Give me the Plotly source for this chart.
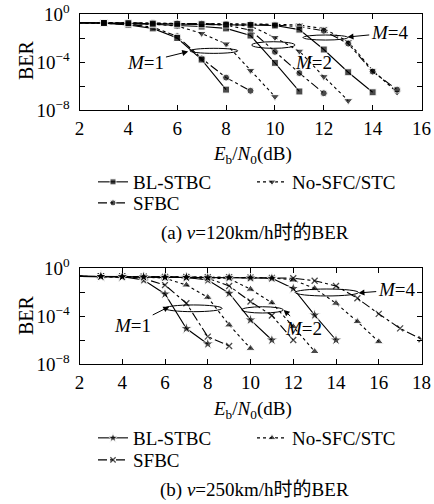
import plotly.graph_objects as go

# ---------------- data ----------------
# x starts at 2 dB and steps by 1 dB for every curve
snr_start = 2

# (a) v=120 km/h
a_bl_m1 = [0.19, 0.17, 0.12, 0.063, 1.0e-2, 1.6e-4, 5e-7]
a_sf_m1 = [0.19, 0.175, 0.14, 0.08, 1.4e-2, 2e-4, 5e-6, 4e-7]
a_ns_m1 = [0.19, 0.18, 0.165, 0.14, 0.1, 2.4e-2, 3.2e-3, 2e-5, 1.3e-7]
a_bl_m2 = [0.19, 0.18, 0.165, 0.14, 0.11, 0.09, 0.063, 1.6e-2, 8.5e-5, 3.5e-7]
a_sf_m2 = [0.19, 0.185, 0.18, 0.17, 0.16, 0.14, 0.12, 0.045, 7e-4, 1.2e-5, 2.5e-7]
a_ns_m2 = [0.19, 0.185, 0.18, 0.17, 0.16, 0.15, 0.13, 0.1, 1.1e-2, 8e-4, 6e-6, 6e-8]
a_bl_m4 = [0.19, 0.18, 0.17, 0.16, 0.15, 0.14, 0.13, 0.12, 0.11, 0.05, 1.1e-3, 1.4e-5, 3e-7]
a_sf_m4 = [0.19, 0.185, 0.18, 0.175, 0.17, 0.16, 0.15, 0.14, 0.12, 0.09, 0.04, 3.4e-3, 1.6e-5, 5e-7]
a_ns_m4 = [0.19, 0.185, 0.18, 0.175, 0.17, 0.165, 0.16, 0.15, 0.14, 0.12, 0.06, 5e-3, 2e-5, 3e-7]

# (b) v=250 km/h
b_bl_m1 = [0.2, 0.2, 0.19, 0.1, 6.8e-3, 9e-6, 4.7e-7]
b_sf_m1 = [0.2, 0.2, 0.19, 0.13, 3.8e-2, 1.15e-3, 1.9e-6, 3.2e-7]
b_ns_m1 = [0.2, 0.2, 0.19, 0.18, 0.14, 3.8e-2, 3.6e-3, 1.8e-5, 2e-7]
b_bl_m2 = [0.2, 0.2, 0.19, 0.18, 0.17, 0.16, 0.1, 7.9e-3, 4.7e-5, 1e-6]
b_sf_m2 = [0.2, 0.2, 0.19, 0.18, 0.17, 0.16, 0.14, 3.2e-2, 1.6e-3, 1.1e-4, 1e-6]
b_ns_m2 = [0.2, 0.2, 0.19, 0.18, 0.17, 0.16, 0.15, 0.13, 1.7e-2, 1.26e-3, 1.3e-5, 1.1e-7]
b_bl_m4 = [0.2, 0.2, 0.19, 0.18, 0.17, 0.17, 0.16, 0.16, 0.15, 0.14, 2e-2, 1.2e-4, 1e-6]
b_sf_m4 = [0.2, 0.2, 0.19, 0.19, 0.18, 0.18, 0.17, 0.17, 0.16, 0.15, 0.14, 8.7e-2, 3.2e-2,
           3e-3, 1.5e-4, 9.3e-6, 1.15e-6]
b_ns_m4 = [0.2, 0.2, 0.19, 0.19, 0.18, 0.18, 0.17, 0.17, 0.16, 0.15, 0.1, 2e-2, 1.15e-3,
           3.4e-5, 7.2e-7]

scheme_names = ["BL-STBC", "No-SFC/STC", "SFBC"]   # legend order
draw_order = ["No-SFC/STC", "SFBC", "BL-STBC"]     # BL-STBC drawn on top
ytick_vals = [1, 1e-4, 1e-8]
ytick_text = ["10<sup>0</sup>", "10<sup>\u22124</sup>", "10<sup>\u22128</sup>"]
yminor_vals = [1e-2, 1e-6]
xtick_a = [2, 4, 6, 8, 10, 12, 14, 16]
xtick_b = [2, 4, 6, 8, 10, 12, 14, 16, 18]

# ---------------- figure ----------------
W, H = 434, 504
FONT = "Liberation Serif, Noto Sans CJK SC, serif"


def px(x):
    return x / W


def py(y):
    return 1 - y / H


fig = go.Figure()

styles_a = {
    "BL-STBC": dict(dash="solid", symbol="square", size=7),
    "No-SFC/STC": dict(dash="dot", symbol="triangle-down", size=8),
    "SFBC": dict(dash="dashdot", symbol="circle", size=7),
}
styles_b = {
    "BL-STBC": dict(dash="solid", symbol="star", size=9),
    "No-SFC/STC": dict(dash="dot", symbol="triangle-up", size=8),
    "SFBC": dict(dash="dashdot", symbol="x-thin", size=6),
}

curves_a = {
    "BL-STBC": [a_bl_m1, a_bl_m2, a_bl_m4],
    "No-SFC/STC": [a_ns_m1, a_ns_m2, a_ns_m4],
    "SFBC": [a_sf_m1, a_sf_m2, a_sf_m4],
}
curves_b = {
    "BL-STBC": [b_bl_m1, b_bl_m2, b_bl_m4],
    "No-SFC/STC": [b_ns_m1, b_ns_m2, b_ns_m4],
    "SFBC": [b_sf_m1, b_sf_m2, b_sf_m4],
}


def add_panel(curves, styles, xa, ya, legends):
    for name in draw_order:
        rank = scheme_names.index(name)
        st = styles[name]
        leg = legends[0] if name != "SFBC" else legends[1]
        for k, yv in enumerate(curves[name]):
            xv = list(range(snr_start, snr_start + len(yv)))
            sizes = [0] + [st["size"]] * (len(yv) - 1)
            mk = dict(symbol=st["symbol"], size=sizes, color="black")
            if st["symbol"] == "x-thin":
                mk["line"] = dict(color="black", width=1.3)
            fig.add_trace(go.Scatter(
                x=xv, y=yv, mode="lines+markers", name=name,
                line=dict(color="black", width=1.1, dash=st["dash"]),
                marker=mk, xaxis=xa, yaxis=ya,
                showlegend=(k == 0), legend=leg, legendrank=rank,
                legendgroup=xa + name, cliponaxis=True,
            ))


add_panel(curves_a, styles_a, "x", "y", ["legend", "legend2"])
add_panel(curves_b, styles_b, "x2", "y2", ["legend3", "legend4"])

axis_common = dict(
    showline=True, linecolor="black", linewidth=1, mirror="ticks",
    ticks="inside", ticklen=5, tickcolor="black", showgrid=False, zeroline=False,
    automargin=False,
    tickfont=dict(family=FONT, size=19, color="black"),
)
yminor = dict(tickvals=yminor_vals, ticks="inside", ticklen=5, tickcolor="black",
              showgrid=False)

fig.update_layout(
    template="none",
    width=W, height=H, margin=dict(l=0, r=0, t=0, b=0, autoexpand=False),
    paper_bgcolor="white", plot_bgcolor="white",
    font=dict(family=FONT, size=19, color="black"),
    xaxis=dict(domain=[px(79.5), px(421.5)], range=[2, 16], tickvals=xtick_a,
               anchor="y", ticklabelstandoff=1, **axis_common),
    yaxis=dict(domain=[py(110), py(14)], type="log", range=[-8, 0],
               tickvals=ytick_vals, ticktext=ytick_text, anchor="x", minor=yminor,
               ticklabelstandoff=5, **axis_common),
    xaxis2=dict(domain=[px(79.5), px(421.5)], range=[2, 18], tickvals=xtick_b,
                anchor="y2", ticklabelstandoff=1, **axis_common),
    yaxis2=dict(domain=[py(364), py(268)], type="log", range=[-8, 0],
                tickvals=ytick_vals, ticktext=ytick_text, anchor="x2", minor=yminor,
                ticklabelstandoff=5, **axis_common),
)

leg_common = dict(orientation="h", xanchor="left", yanchor="middle",
                  bgcolor="rgba(0,0,0,0)", borderwidth=0, entrywidth=114,
                  font=dict(family=FONT, size=19, color="black"))
fig.update_layout(
    legend=dict(x=px(93), y=py(182), **leg_common),
    legend2=dict(x=px(93), y=py(203), **leg_common),
    legend3=dict(x=px(93), y=py(438), **leg_common),
    legend4=dict(x=px(93), y=py(460), **leg_common),
)

ann = []
tfont = dict(family=FONT, size=19, color="black")
center = dict(xref="paper", yref="paper", showarrow=False, xanchor="center",
              yanchor="middle")
# axis titles and captions
for yc in (60, 315):
    ann.append(dict(text="BER", x=px(26), y=py(yc), textangle=-90,
                    font=dict(family=FONT, size=20, color="black"), **center))
for yc in (155, 410):
    ann.append(dict(text="<i>E</i><sub>b</sub>/<i>N</i><sub>0</sub>(dB)", x=px(252),
                    y=py(yc), font=tfont, **center))
ann.append(dict(text="(a) <i>v</i>=120km/h时的BER", x=px(255), y=py(233),
                font=tfont, **center))
ann.append(dict(text="(b) <i>v</i>=250km/h时的BER", x=px(255), y=py(490),
                font=tfont, **center))

# M labels with arrows (data coordinates, log10 for y on log axes)
labels = [
    # xref, yref, label_x, label_y(log), head_x, head_y(log), label
    ("x", "y", 4.72, -4.0, 6.45, -3.13, "<i>M</i>=1"),
    ("x", "y", 11.57, -4.0, 10.85, -2.95, "<i>M</i>=2"),
    ("x", "y", 14.70, -1.58, 12.97, -1.92, "<i>M</i>=4"),
    ("x2", "y2", 4.49, -4.75, 6.20, -3.22, "<i>M</i>=1"),
    ("x2", "y2", 12.47, -5.0, 11.55, -3.50, "<i>M</i>=2"),
    ("x2", "y2", 16.84, -1.83, 15.05, -2.08, "<i>M</i>=4"),
]
for xr, yr, tx, ty, hx, hy, lab in labels:
    ann.append(dict(text=lab, x=hx, y=hy, ax=tx, ay=ty, xref=xr, yref=yr,
                    axref=xr, ayref=yr, showarrow=True, arrowhead=2, arrowsize=1.2,
                    arrowwidth=1, arrowcolor="black", standoff=0,
                    font=dict(family=FONT, size=19, color="black")))
fig.update_layout(annotations=ann)

# ellipses grouping the curves of each M
ellipses = [
    ("x", "y", 6.52, 8.48, 10 ** -3.28, 10 ** -2.86),
    ("x", "y", 9.05, 10.82, 10 ** -2.86, 10 ** -2.31),
    ("x", "y", 11.15, 12.99, 10 ** -2.17, 10 ** -1.75),
    ("x2", "y2", 5.99, 8.67, 10 ** -3.64, 10 ** -3.08),
    ("x2", "y2", 9.59, 11.53, 10 ** -3.75, 10 ** -3.23),
    ("x2", "y2", 12.09, 15.05, 10 ** -2.33, 10 ** -1.75),
]
for xr, yr, x0, x1, y0, y1 in ellipses:
    fig.add_shape(type="circle", xref=xr, yref=yr, x0=x0, x1=x1, y0=y0, y1=y1,
                  line=dict(color="black", width=1))

fig.write_html("out.html", config={"displayModeBar": False},
               post_script="document.body.style.margin='0';document.body.style.padding='0';")
